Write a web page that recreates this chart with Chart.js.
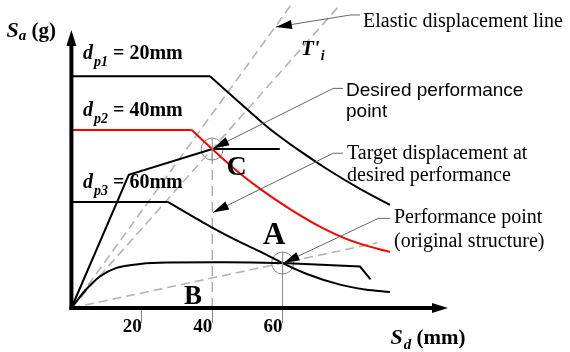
<!DOCTYPE html>
<html><head><meta charset="utf-8">
<script src="https://cdn.jsdelivr.net/npm/chart.js@4"></script>
<style>html,body{margin:0;padding:0;background:#fff;}canvas{display:block;}</style>
</head><body>
<canvas id="c" width="570" height="352"></canvas>
<script>
// ---- data (Sd in mm, Sa in g) ----
const xTicks = [20, 40, 60];
const dp1Sd = [0, 39.4, 47.9, 56.4, 64.9, 72.6, 82.0, 90.5];
const dp1Sa = [1.0, 1.0, 0.885, 0.773, 0.678, 0.600, 0.514, 0.445];
const dp2Sd = [0, 34.2, 40.0, 46.5, 53.6, 62.1, 69.8, 77.2, 84.0, 90.5];
const dp2Sa = [0.768, 0.768, 0.686, 0.598, 0.514, 0.427, 0.358, 0.304, 0.268, 0.242];
const dp3Sd = [0, 27.4, 34.3, 40.0, 47.8, 54.1, 60.0, 66.9, 76.3, 83.4, 90.5];
const dp3Sa = [0.458, 0.458, 0.397, 0.347, 0.285, 0.240, 0.194, 0.147, 0.101, 0.080, 0.069];
const origSd = [0, 4.3, 8.1, 12.8, 19.5, 27.1, 43.9, 60.0, 82.0, 85.0];
const origSa = [0, 0.082, 0.136, 0.173, 0.190, 0.196, 0.197, 0.194, 0.179, 0.124];
const upgSd = [0, 16.3, 40.0, 59.2];
const upgSa = [0, 0.575, 0.686, 0.686];
const elastic1Sd = [0, 62.4];
const elastic1Sa = [0, 1.308];
const elastic2Sd = [0, 76.3];
const elastic2Sa = [0, 1.308];
const lineBSd = [0, 86.8];
const lineBSa = [0, 0.281];
const perfSd = [40, 60];        // C (desired), A (original)
const perfSa = [0.686, 0.194];

const pts = (xs, ys, a = 0, b = xs.length) => xs.slice(a, b).map((v, i) => ({x: v, y: ys[a + i]}));

// annotation leaders (data coordinates: tip first)
const leaders = [
  [[58.1, 1.213], [79.4, 1.265], [82.0, 1.265]],
  [[40.3, 0.689], [74.4, 0.948], [77.2, 0.948]],
  [[40.2, 0.412], [74.4, 0.668], [77.2, 0.668]],
  [[60.3, 0.194], [87.2, 0.387], [90.5, 0.387]]
];

const CIRCLE_R = 11;
const BLACK = '#000', RED = '#ff0000', LGRAY = '#b4b4b4', MGRAY = '#888';
const SERIF = '"Liberation Serif", "Times New Roman", serif';
const SANS = '"Liberation Sans", Arial, sans-serif';

function lineDs(data, color, width, extra) {
  return Object.assign({data, borderColor: color, borderWidth: width, pointRadius: 0,
    fill: false, tension: 0, clip: false}, extra || {});
}
const mono = {cubicInterpolationMode: 'monotone', tension: 0.4};
const dashed = {borderDash: [9, 5]};

const datasets = [
  lineDs(pts(dp1Sd, dp1Sa, 0, 2), BLACK, 2),
  lineDs(pts(dp1Sd, dp1Sa, 1), BLACK, 2, mono),
  lineDs(pts(dp2Sd, dp2Sa, 0, 2), RED, 2),
  lineDs(pts(dp2Sd, dp2Sa, 1), RED, 2, mono),
  lineDs(pts(dp3Sd, dp3Sa, 0, 2), BLACK, 2),
  lineDs(pts(dp3Sd, dp3Sa, 1), BLACK, 2, mono),
  lineDs(pts(origSd, origSa, 0, 8), BLACK, 2, mono),
  lineDs(pts(origSd, origSa, 7), BLACK, 2),
  lineDs(pts(upgSd, upgSa), BLACK, 2),
  lineDs(pts(elastic1Sd, elastic1Sa), LGRAY, 1.6, dashed),
  lineDs(pts(elastic2Sd, elastic2Sa), LGRAY, 1.6, dashed),
  lineDs(pts(lineBSd, lineBSa), LGRAY, 1.6, dashed),
  lineDs([{x: perfSd[0], y: 0}, {x: perfSd[0], y: perfSa[0]}], MGRAY, 1, {borderDash: [10, 6]}),
  lineDs([{x: perfSd[1], y: 0}, {x: perfSd[1], y: perfSa[1]}], MGRAY, 1),
  {data: pts(perfSd, perfSa), showLine: false, pointRadius: CIRCLE_R, pointStyle: 'circle',
   pointBorderColor: MGRAY, pointBorderWidth: 1, pointBackgroundColor: 'rgba(0,0,0,0)', clip: false}
];

function rich(ctx, x, y, parts) {
  let cx = x;
  for (const [t, f, dy, dx] of parts) {
    ctx.font = f; cx += (dx || 0);
    ctx.fillText(t, cx, y + (dy || 0));
    cx += ctx.measureText(t).width;
  }
}
function arrowHead(ctx, tx, ty, fx, fy, len, hw) {
  const a = Math.atan2(ty - fy, tx - fx);
  ctx.beginPath();
  ctx.moveTo(tx, ty);
  ctx.lineTo(tx - len * Math.cos(a) + hw * Math.sin(a), ty - len * Math.sin(a) - hw * Math.cos(a));
  ctx.lineTo(tx - len * Math.cos(a) - hw * Math.sin(a), ty - len * Math.sin(a) + hw * Math.cos(a));
  ctx.closePath(); ctx.fill();
}

const overlay = {
  id: 'overlay',
  afterDatasetsDraw(chart) {
    const {ctx, scales: {x, y}} = chart;
    const X = v => x.getPixelForValue(v), Y = v => y.getPixelForValue(v);
    ctx.save();
    // crosshairs in circles
    ctx.strokeStyle = MGRAY; ctx.lineWidth = 1; ctx.setLineDash([]);
    perfSd.forEach((sd, i) => {
      const px = X(sd), py = Y(perfSa[i]);
      ctx.beginPath(); ctx.moveTo(px, py - CIRCLE_R); ctx.lineTo(px, py + CIRCLE_R); ctx.stroke();
    });
    // leaders
    ctx.strokeStyle = '#555'; ctx.lineWidth = 0.9; ctx.fillStyle = BLACK;
    leaders.forEach(l => {
      ctx.beginPath();
      l.forEach(([a, b], i) => i ? ctx.lineTo(X(a), Y(b)) : ctx.moveTo(X(a), Y(b)));
      ctx.stroke();
      arrowHead(ctx, X(l[0][0]), Y(l[0][1]), X(l[1][0]), Y(l[1][1]), 16, 4.5);
    });
    // axes
    const x0 = X(0), y0 = Y(0), xr = X(x.max), yt = Y(y.max);
    ctx.strokeStyle = BLACK; ctx.lineWidth = 4;
    ctx.beginPath(); ctx.moveTo(x0 - 2, y0); ctx.lineTo(xr - 12, y0); ctx.stroke();
    ctx.beginPath(); ctx.moveTo(x0, y0 + 2); ctx.lineTo(x0, yt + 12); ctx.stroke();
    arrowHead(ctx, xr, y0, x0, y0, 16, 5);
    arrowHead(ctx, x0, yt, x0, y0, 16, 5);
    // texts
    ctx.fillStyle = BLACK; ctx.textBaseline = 'alphabetic'; ctx.textAlign = 'left';
    const BI = s => `italic bold ${s}px ${SERIF}`, B = s => `bold ${s}px ${SERIF}`, N = s => `${s}px ${SERIF}`;
    rich(ctx, 6.5, 37, [['S', BI(22)], ['a', BI(15), 3], [' (g)', B(21)]]);
    rich(ctx, 390.5, 344, [['S', BI(22)], ['d', BI(15), 5, 1], [' (mm)', B(21)]]);
    rich(ctx, 83, 59, [['d', BI(20)], ['p1', BI(14), 7, 1], [' = 20mm', B(20)]]);
    rich(ctx, 83, 116, [['d', BI(20)], ['p2', BI(14), 7, 1], [' = 40mm', B(20)]]);
    rich(ctx, 83, 188, [['d', BI(20)], ['p3', BI(14), 7, 1], [' = 60mm', B(20)]]);
    rich(ctx, 301, 55, [['T', BI(21)], ["'", BI(21)], ['i', BI(14), 5, 1]]);
    ctx.font = B(28); ctx.fillText('C', 226.5, 175);
    ctx.font = B(31); ctx.fillText('A', 263, 243.5);
    ctx.font = B(27); ctx.fillText('B', 184, 304);
    ctx.font = N(20);
    ctx.fillText('Elastic displacement line', 363, 27);
    ctx.fillText('Target displacement at', 347, 159);
    ctx.fillText('desired performance', 347, 181);
    ctx.fillText('Performance point', 394, 223);
    ctx.fillText('(original structure)', 394, 247);
    ctx.font = `19px ${SANS}`;
    ctx.fillText('Desired performance', 346, 96);
    ctx.fillText('point', 346, 117);
    ctx.restore();
  }
};

new Chart(document.getElementById('c'), {
  type: 'line',
  data: {datasets},
  plugins: [overlay],
  options: {
    responsive: false, animation: false, devicePixelRatio: 1,
    layout: {padding: {left: 71.4, right: 122, top: 30, bottom: 14}},
    plugins: {legend: {display: false}, tooltip: {enabled: false}},
    scales: {
      x: {
        type: 'linear', min: 0, max: 107,
        afterBuildTicks: s => { s.ticks = xTicks.map(v => ({value: v})); },
        afterFit: s => { s.height = 30; },
        grid: {display: true, drawOnChartArea: false, drawTicks: true, tickLength: 15, color: MGRAY, lineWidth: 1},
        border: {display: false},
        ticks: {align: 'end', padding: -7, color: BLACK, autoSkip: false, maxRotation: 0,
                font: {family: SERIF, size: 19, weight: 'bold'}}
      },
      y: {type: 'linear', min: 0, max: 1.2, display: false}
    }
  }
});
</script></body></html>
